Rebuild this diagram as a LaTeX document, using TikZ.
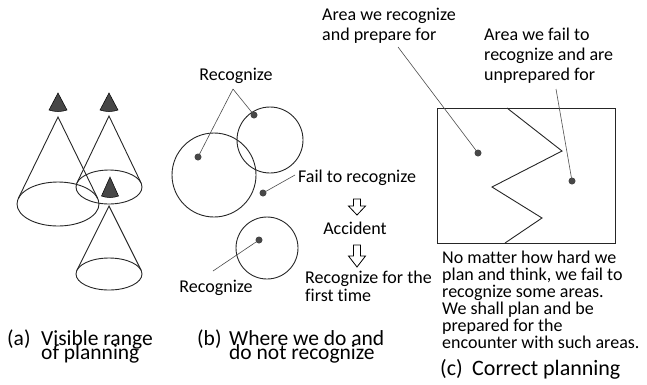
\documentclass[tikz,border=0pt]{standalone}
\usepackage{fontspec}
\setmainfont{Carlito}[Ligatures=NoCommon]
\lineskiplimit=-100pt
\lineskip=0pt
\begin{document}
\begin{tikzpicture}[x=1pt,y=-1pt,
  ln/.style={line width=0.9pt, draw=black!85},
  lead/.style={line width=0.6pt, draw=black!70},
  dot/.style={circle, fill=black!72, inner sep=0pt, minimum size=7pt},
  txt/.style={inner sep=0pt, font=\fontsize{18}{20}\selectfont, align=left},
  captxt/.style={inner sep=0pt, font=\fontsize{21.5}{14}\selectfont, align=left},
  eye/.style={fill=black!72, draw=black, line width=0.5pt},
  hollow/.style={draw=black, line width=0.8pt, fill=white}]
\useasboundingbox (0,0) rectangle (647,384);

% ---------- (a) visible range of planning ----------
% left cone
\draw[ln] (58,204) ellipse [x radius=41, y radius=22];
\draw[ln] (18.3,198.4) -- (58,117) -- (97.7,198.4);
% upper right cone
\draw[ln] (109,187) ellipse [x radius=33, y radius=17];
\draw[ln] (76.96,182.9) -- (109,116) -- (141.04,182.9);
% lower cone
\draw[ln] (109,274) ellipse [x radius=33, y radius=16];
\draw[ln] (76.9,270.2) -- (109,206) -- (141.1,270.2);
% observers
\filldraw[eye] (58,93) -- (49,110) .. controls (54,112) and (62,112) .. (67,110) -- cycle;
\filldraw[eye] (109,93) -- (100,110) .. controls (105,112) and (113,112) .. (118,110) -- cycle;
\filldraw[eye] (110,177) -- (101.5,196) .. controls (106,198) and (114,198) .. (118.5,196) -- cycle;

% multi-line nodes: base anchor = baseline of the last line
\node[captxt, anchor=base west] (capa) at (7,345) {(a)};
\node[captxt, anchor=base west] (capat) at (41,359) {Visible range\\of planning};

% ---------- (b) where we do and do not recognize ----------
\draw[ln] (214,175) circle [radius=42];
\draw[ln] (270,140) circle [radius=33];
\draw[ln] (267,248) circle [radius=31];

\node[dot] (d1) at (198,157) {};
\node[dot] (d2) at (254,115) {};
\node[dot] (d3) at (263,193) {};
\node[dot] (d4) at (259,240) {};

\node[txt, anchor=base] (rec1) at (236,80) {Recognize};
\coordinate (r1) at (233,89);
\draw[lead] (r1) -- (d1.center);
\draw[lead] (r1) -- (d2.center);

\node[txt, anchor=base west] (fail) at (298,182) {Fail to recognize};
\coordinate (f1) at (295,175);
\draw[lead] (f1) -- (d3.center);

\node[txt, anchor=base] (rec2) at (216,292) {Recognize};
\coordinate (r2) at (213,271);
\draw[lead] (r2) -- (d4.center);

\node[txt, anchor=base] (acc) at (355,234) {Accident};
\node[txt, anchor=base west, font=\fontsize{18}{18}\selectfont] (first) at (305,301) {Recognize for the\\first time};

% hollow arrows
\draw[hollow] (353.5,199) -- (360.5,199) -- (360.5,206) -- (365.5,206) -- (357,215)
  -- (348.5,206) -- (353.5,206) -- cycle;
\draw[hollow] (353.5,245) -- (360.5,245) -- (360.5,256) -- (365.5,256) -- (357,267)
  -- (348.5,256) -- (353.5,256) -- cycle;

\node[captxt, anchor=base west] (capb) at (197,345) {(b)};
\node[captxt, anchor=base west] (capbt) at (229,359) {Where we do and\\do not recognize};

% ---------- (c) correct planning ----------
\draw[ln] (437,108) rectangle (615,243);
\draw[ln] (507,108) -- (562,151) -- (492,187) -- (542,218) -- (505,243);

\node[dot] (d5) at (478,153) {};
\node[dot] (d6) at (572,181) {};

\node[txt, anchor=base west] (lab1) at (322,40) {Area we recognize\\and prepare for};
\node[txt, anchor=base west] (lab2) at (484,80) {Area we fail to\\recognize and are\\unprepared for};
\coordinate (l1) at (398,47);
\coordinate (l2) at (556,89);
\draw[lead] (l1) -- (d5.center);
\draw[lead] (l2) -- (d6.center);

\node[txt, anchor=base west, font=\fontsize{18}{17}\selectfont] (block) at (442,348)
  {No matter how hard we\\plan and think, we fail to\\recognize some areas.\\We shall plan and be\\prepared for the\\encounter with such areas.};

\node[captxt, anchor=base west, font=\fontsize{22}{12}\selectfont] (capc) at (440,375) {(c)};
\node[captxt, anchor=base west, font=\fontsize{22}{12}\selectfont] (capct) at (472,375) {Correct planning};
\end{tikzpicture}
\end{document}
